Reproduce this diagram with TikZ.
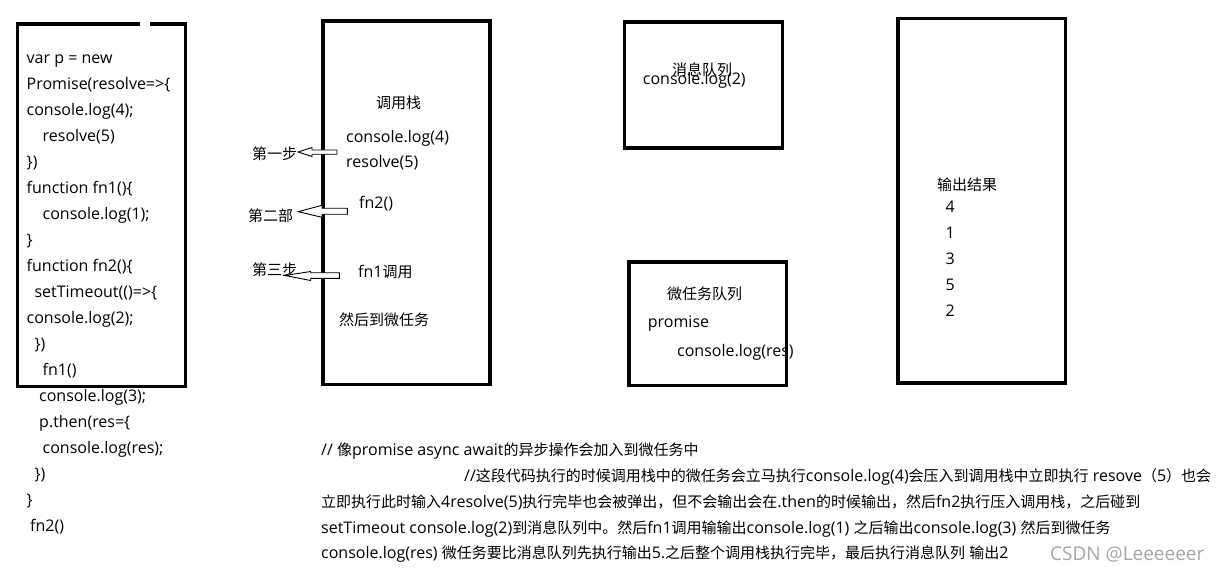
\documentclass[tikz,border=0pt]{standalone}
\usepackage{fontspec}
\setmainfont{Open Sans}
\newfontfamily\zhfont{Noto Sans CJK SC}
\newcommand\zh[1]{{\zhfont\fontsize{15}{18}\selectfont #1}}
\begin{document}
\begin{tikzpicture}[x=1pt,y=-1pt,
  box/.style={line width=3.3pt},
  txt/.style={anchor=base west, inner sep=0pt, font=\fontsize{16}{18}\selectfont},
  barrow/.style={line width=0.9pt, fill=white, line join=miter},
  wmark/.style={anchor=base west, inner sep=0pt, text=black!35, font=\fontsize{19}{22}\selectfont}]
\useasboundingbox[fill=white] (0,0) rectangle (1221,572);

% ---------- code box ----------
\draw[box] (140,24) -- (17.5,24) -- (17.5,386.5) -- (185.5,386.5) -- (185.5,24) -- (150,24);
\foreach \t/\x [count=\i] in {
  {var p = new}/26.5,
  {Promise(resolve=>\{}/26.5,
  {console.log(4);}/26.5,
  {resolve(5)}/42.5,
  {\})}/26.5,
  {function fn1()\{}/26.5,
  {console.log(1);}/42.5,
  {\}}/26.5,
  {function fn2()\{}/26.5,
  {setTimeout(()=>\{}/34.3,
  {console.log(2);}/26.5,
  {\})}/34.3,
  {fn1()}/42.5,
  {console.log(3);}/39,
  {p.then(res=\{}/39,
  {console.log(res);}/42.5,
  {\})}/34.3,
  {\}}/26.5,
  {fn2()}/30}
  \node[txt] (code\i) at (\x,{63.5+26*(\i-1)}) {\t};

% ---------- call stack ----------
\draw[box] (323,21) rectangle (490,384.5);
\node[txt] (csT) at (376,108.5) {\zh{调用栈}};
\node[txt] (cs1) at (346,143) {console.log(4)};
\node[txt] (cs2) at (346,168) {resolve(5)};
\node[txt] (cs3) at (359,209) {fn2()};
\node[txt] (cs4) at (358,277) {fn1\zh{调用}};
\node[txt] (cs5) at (339,325) {\zh{然后到微任务}};

% step arrows and labels
\node[txt] (s1) at (252,160) {\zh{第一步}};
\node[txt] (s2) at (248,222) {\zh{第二部}};
\node[txt] (s3) at (252,275) {\zh{第三步}};
\draw[barrow] (337,150) -- (312,150) -- (312,147.5) -- (298,152) -- (312,156.5) -- (312,154.3) -- (337,154.3) -- cycle;
\draw[barrow] (347.3,208.3) -- (322,208.3) -- (322,205.3) -- (298.3,211.7) -- (322,217.3) -- (322,214.3) -- (347.3,214.3) -- cycle;
\draw[barrow] (339.3,272.7) -- (310.7,272.7) -- (310.7,271.5) -- (285,275.5) -- (310.7,280.5) -- (310.7,278.3) -- (339.3,278.3) -- cycle;

% ---------- message queue ----------
\draw[box] (624.7,22) rectangle (782.3,148);
\node[txt] (mqT) at (672,76) {\zh{消息队列}};
\node[txt] (mq1) at (642.7,85) {console.log(2)};

% ---------- micro task queue ----------
\draw[box] (629,262) rectangle (786.3,385.7);
\node[txt] (uqT) at (667,299) {\zh{微任务队列}};
\node[txt] (uq1) at (647.7,327) {promise};
\node[txt] (uq2) at (677,356) {console.log(res)};

% ---------- output ----------
\draw[box] (898,18.7) rectangle (1065.3,383);
\node[txt] (outT) at (937,191) {\zh{输出结果}};
\foreach \n [count=\i] in {4,1,3,5,2}
  \node[txt] (out\i) at (945.5,{213+25.9*(\i-1)}) {\n};

% ---------- explanation ----------
\node[txt] (b1) at (321,455) {// \zh{像}promise async await\zh{的异步操作会加入到微任务中}};
\node[txt] (b2) at (464,481) {//\zh{这段代码执行的时候调用栈中的微任务会立马执行}console.log(4)\zh{会压入到调用栈中立即执行} resove\zh{（}5\zh{）也会}};
\node[txt] (b3) at (321,507) {\zh{立即执行此时输入}4resolve(5)\zh{执行完毕也会被弹出，但不会输出会在}.then\zh{的时候输出，然后}fn2\zh{执行压入调用栈，之后碰到}};
\node[txt] (b4) at (321,533) {setTimeout console.log(2)\zh{到消息队列中。然后}fn1\zh{调用输输出}console.log(1) \zh{之后输出}console.log(3) \zh{然后到微任务}};
\node[txt] (b5) at (321,558) {console.log(res) \zh{微任务要比消息队列先执行输出}5.\zh{之后整个调用栈执行完毕，最后执行消息队列} \zh{输出}2};

\node[wmark] (wm) at (1050,560) {CSDN @Leeeeeer};
\end{tikzpicture}
\end{document}
